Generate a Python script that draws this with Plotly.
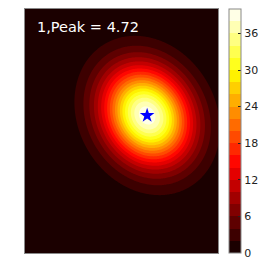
import numpy as np
import plotly.graph_objects as go

# Field parameters (plot units ~ pixels of the plot area)
peak_value = 39.5
center_x = 121.5
center_y = 137.5
sigma_major = 34.0
sigma_minor = 28.0
angle_deg = -60.0
x_extent = 192
y_extent = 244

level_start = 2
level_end = 38
level_step = 2
cbar_min = 0
cbar_max = 40
tick_values = [0, 6, 12, 18, 24, 30, 36]
label_text = "1,Peak = 4.72"

xs = np.arange(0, x_extent + 1, 1.0)
ys = np.arange(0, y_extent + 1, 1.0)
X, Y = np.meshgrid(xs, ys)
th = np.deg2rad(angle_deg)
dx = X - center_x
dy = Y - center_y
u = dx * np.cos(th) + dy * np.sin(th)
v = -dx * np.sin(th) + dy * np.cos(th)
Z = peak_value * np.exp(-0.5 * ((u / sigma_major) ** 2 + (v / sigma_minor) ** 2))


def hot(t):
    r = np.interp(t, [0, 0.365079, 1], [0.0416, 1, 1])
    g = np.interp(t, [0, 0.365079, 0.746032, 1], [0, 0, 1, 1])
    b = np.interp(t, [0, 0.746032, 1], [0, 0, 1])
    return "rgb(%d,%d,%d)" % (round(r * 255), round(g * 255), round(b * 255))


# plotly colours each contour band by its midpoint; map those onto matplotlib-style hot
scale = []
for s in np.linspace(0, 1, 101):
    mid = (level_start - level_step / 2) + s * (level_end - level_start + level_step)
    scale.append([float(s), hot(mid / cbar_max)])

# stepped colorscale for the colour bar (one flat colour per band)
n_bands = int((cbar_max - cbar_min) / level_step)
bar_scale = []
for k in range(n_bands):
    c = hot((k + 0.5) / n_bands)
    bar_scale.append([k / n_bands, c])
    bar_scale.append([(k + 1) / n_bands, c])

fig = go.Figure()
fig.add_trace(go.Contour(
    x=xs, y=ys, z=Z,
    colorscale=scale, showscale=False,
    contours=dict(start=level_start, end=level_end, size=level_step, coloring="fill"),
    line=dict(width=0),
    hoverinfo="skip",
))
fig.add_trace(go.Scatter(
    x=[center_x], y=[center_y], mode="markers", hoverinfo="skip",
    marker=dict(
        size=0.1, color=[cbar_min], cmin=cbar_min, cmax=cbar_max,
        colorscale=bar_scale, showscale=True,
        colorbar=dict(
            x=1.057, xanchor="left", xpad=0, ypad=0,
            y=0.5, yanchor="middle", len=1, lenmode="fraction",
            thickness=12, outlinewidth=1, outlinecolor="#888888",
            tickvals=tick_values, ticks="inside", ticklen=3, tickcolor="#222222",
            tickfont=dict(family="DejaVu Sans", size=11, color="#222222"),
        ),
    ),
    showlegend=False,
))
fig.add_trace(go.Scatter(
    x=[center_x], y=[center_y], mode="markers",
    marker=dict(symbol="star", size=11, color="blue", line=dict(width=0)),
    showlegend=False,
))
fig.add_annotation(
    x=0.05, y=0.926, xref="paper", yref="paper", xanchor="left", yanchor="middle",
    text=label_text, showarrow=False,
    font=dict(family="DejaVu Sans", size=14.5, color="white"),
)
fig.update_xaxes(range=[0, x_extent], showticklabels=False, ticks="", showgrid=False,
                 zeroline=False, showline=True, linecolor="#888888", linewidth=1, mirror=True)
fig.update_yaxes(range=[0, y_extent], showticklabels=False, ticks="", showgrid=False,
                 zeroline=False, showline=True, linecolor="#888888", linewidth=1, mirror=True)
fig.update_layout(
    width=269, height=269,
    margin=dict(l=17, r=59, t=1, b=24),
    paper_bgcolor="white", plot_bgcolor=hot(0.025),
    showlegend=False,
)
fig.write_html("out.html")
